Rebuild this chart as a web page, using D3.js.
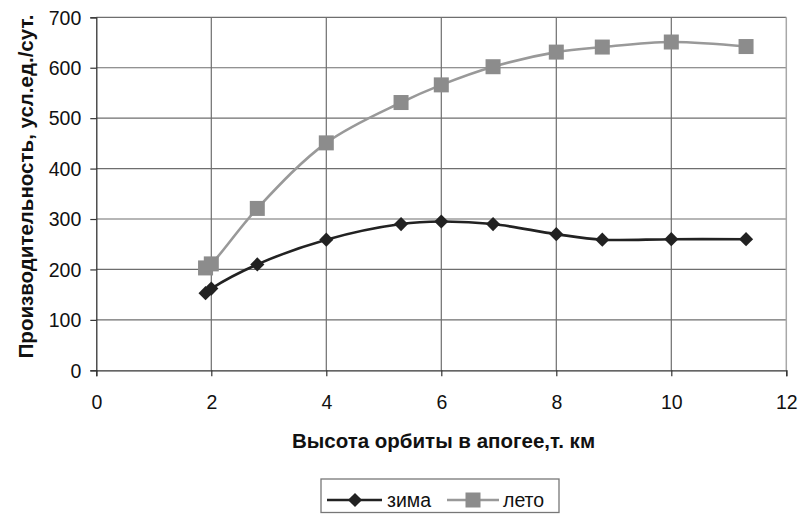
<!DOCTYPE html>
<html>
<head>
<meta charset="utf-8">
<script src="https://cdn.jsdelivr.net/npm/d3@7"></script>
<style>
  html, body { margin: 0; padding: 0; background: #fff; }
  text { font-family: Arial, "Liberation Sans", sans-serif; }
</style>
</head>
<body>
<svg id="chart" width="801" height="515"></svg>
<script>
// Apogee altitude, thousand km
const altitude = [1.9, 2.0, 2.8, 4.0, 5.3, 6.0, 6.9, 8.0, 8.8, 10.0, 11.3];
// Productivity, conventional units per day
const winter = [153, 162, 210, 259, 290, 295, 290, 270, 259, 260, 260];
const summer = [203, 211, 321, 451, 531, 566, 602, 631, 641, 651, 642];
const seriesNames = ["зима", "лето"];
const xTicks = [0, 2, 4, 6, 8, 10, 12];
const yTicks = [0, 100, 200, 300, 400, 500, 600, 700];
const xTitle = "Высота орбиты в апогее,т. км";
const yTitle = "Производительность, усл.ед./сут.";

const svg = d3.select("#chart");
const plotLeft = 96.3, plotRight = 786.3, plotTop = 17.3, plotBottom = 370.3;

const x = d3.scaleLinear().domain([0, 12]).range([plotLeft, plotRight]);
const y = d3.scaleLinear().domain([0, 700]).range([plotBottom, plotTop]);

svg.append("rect").attr("width", 801).attr("height", 515).attr("fill", "#fff");

// Grid
const grid = svg.append("g");
grid.selectAll(".hg").data(yTicks.filter(d => d > 0)).join("line")
  .attr("x1", plotLeft).attr("x2", plotRight)
  .attr("y1", d => y(d)).attr("y2", d => y(d))
  .attr("stroke", "#6e6e6e").attr("stroke-width", 1.2);
grid.selectAll(".vg").data(xTicks.filter(d => d > 0 && d < 12)).join("line")
  .attr("y1", plotTop).attr("y2", plotBottom)
  .attr("x1", d => x(d)).attr("x2", d => x(d))
  .attr("stroke", "#6e6e6e").attr("stroke-width", 1.2);
// right frame edge
grid.append("line").attr("x1", plotRight).attr("x2", plotRight).attr("y1", plotTop).attr("y2", plotBottom)
  .attr("stroke", "#a8a8a8").attr("stroke-width", 1.5);

// Axes
const tickFont = 19.5, titleFont = 20.5;
const yAxis = d3.axisLeft(y).tickValues(yTicks).tickSize(6).tickPadding(9);
const gy = svg.append("g").attr("transform", `translate(${plotLeft},0)`).call(yAxis);
const xAxis = d3.axisBottom(x).tickValues(xTicks).tickSize(6).tickPadding(32.7);
const gx = svg.append("g").attr("transform", `translate(0,${plotBottom})`).call(xAxis);
[gx, gy].forEach(g => {
  g.select(".domain").attr("stroke", "#333").attr("stroke-width", 1.3);
  g.selectAll(".tick line").attr("stroke", "#333").attr("stroke-width", 1.2);
  g.selectAll(".tick text").attr("fill", "#111").attr("font-size", tickFont)
    .attr("font-family", "Arial, 'Liberation Sans', sans-serif");
});
gy.selectAll(".tick text").attr("dy", "0.35em");
gx.selectAll(".tick text").attr("dy", "0");

// Axis titles
svg.append("text").attr("x", 443.5).attr("y", 448).attr("text-anchor", "middle")
  .attr("font-size", titleFont).attr("font-weight", "bold").attr("fill", "#111").text(xTitle);
svg.append("text").attr("transform", "translate(33,186.5) rotate(-90)").attr("text-anchor", "middle")
  .attr("font-size", titleFont).attr("font-weight", "bold").attr("fill", "#111").text(yTitle);

// Series
const line = d3.line().x(d => x(d[0])).y(d => y(d[1])).curve(d3.curveCatmullRom.alpha(0.5));
const winterPts = altitude.map((a, i) => [a, winter[i]]);
const summerPts = altitude.map((a, i) => [a, summer[i]]);

const summerColor = "#999", summerMarker = "#8c8c8c", winterColor = "#222";
const diamond = d3.symbol().type(d3.symbolSquare).size(100);

svg.append("path").datum(summerPts).attr("d", line)
  .attr("fill", "none").attr("stroke", summerColor).attr("stroke-width", 2.6);
svg.selectAll(".sq").data(summerPts).join("rect")
  .attr("x", d => x(d[0]) - 7.5).attr("y", d => y(d[1]) - 7.5)
  .attr("width", 15).attr("height", 15).attr("fill", summerMarker);

svg.append("path").datum(winterPts).attr("d", line)
  .attr("fill", "none").attr("stroke", winterColor).attr("stroke-width", 2.6);
svg.selectAll(".dm").data(winterPts).join("path")
  .attr("d", diamond)
  .attr("transform", d => `translate(${x(d[0])},${y(d[1])}) rotate(45)`)
  .attr("fill", winterColor);

// Legend
const lg = svg.append("g");
lg.append("rect").attr("x", 321).attr("y", 479).attr("width", 238).attr("height", 33.5)
  .attr("fill", "#fff").attr("stroke", "#777").attr("stroke-width", 1.3);
const ly = 500;
lg.append("line").attr("x1", 327).attr("x2", 382).attr("y1", ly).attr("y2", ly)
  .attr("stroke", winterColor).attr("stroke-width", 2.6);
lg.append("path").attr("d", diamond).attr("transform", `translate(355,${ly}) rotate(45)`).attr("fill", winterColor);
lg.append("text").attr("x", 387).attr("y", ly).attr("dy", "0.35em").attr("font-size", tickFont).attr("fill", "#111").text(seriesNames[0]);
lg.append("line").attr("x1", 447).attr("x2", 499).attr("y1", ly).attr("y2", ly)
  .attr("stroke", summerColor).attr("stroke-width", 2.6);
lg.append("rect").attr("x", 473 - 7.5).attr("y", ly - 7.5).attr("width", 15).attr("height", 15).attr("fill", summerMarker);
lg.append("text").attr("x", 503).attr("y", ly).attr("dy", "0.35em").attr("font-size", tickFont).attr("fill", "#111").text(seriesNames[1]);
</script>
</body>
</html>
